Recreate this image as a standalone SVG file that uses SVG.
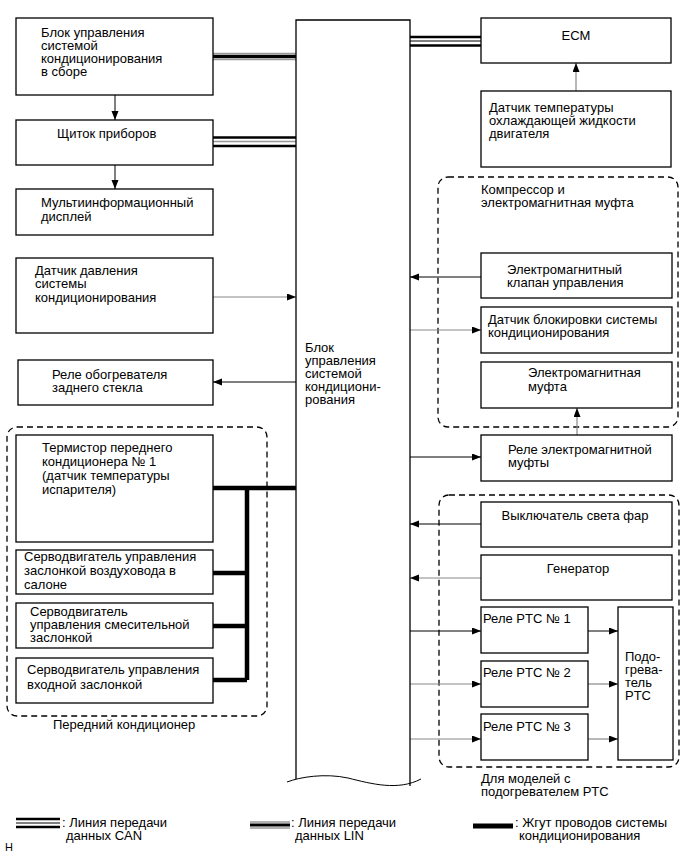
<svg xmlns="http://www.w3.org/2000/svg" width="691" height="854" viewBox="0 0 691 854">
<style>
.box{fill:#fff;stroke:#000;stroke-width:1.3}
.grp{fill:none;stroke:#000;stroke-width:1.3;stroke-dasharray:6 4}
text{font-family:"Liberation Sans",Arial,sans-serif;font-size:13px;fill:#000}
.ln{stroke:#000;stroke-width:1;fill:none}
.lg{stroke:#888;stroke-width:1.2;fill:none}
.hw{stroke:#000;stroke-width:4.5;fill:none}
.blk{stroke:#000;stroke-width:2.5}
.gry{stroke:#999;stroke-width:1.5}
</style>
<defs>
<marker id="ah" markerUnits="userSpaceOnUse" markerWidth="10" markerHeight="8" refX="9" refY="3.5" orient="auto"><path d="M0,0 L9,3.5 L0,7 z" fill="#000"/></marker>
</defs>
<rect width="691" height="854" fill="#fff"/>

<g id="groups">
<rect class="grp" x="7" y="427" width="260" height="289" rx="10"/>
<rect class="grp" x="438" y="177" width="240" height="250" rx="10"/>
<rect class="grp" x="439" y="495" width="240" height="272" rx="10"/>
<text x="53" y="729">Передний кондиционер</text>
<text x="481" y="194">Компрессор и</text>
<text x="481" y="207">электромагнитная муфта</text>
<text x="481" y="783">Для моделей с</text>
<text x="481" y="796">подогревателем PTC</text>
</g>

<g id="connectors">
<!-- CAN/LIN buses -->
<line class="blk" x1="410" y1="37" x2="481" y2="37"/>
<line class="ln" x1="410" y1="41" x2="481" y2="41"/>
<line class="blk" x1="410" y1="45.5" x2="481" y2="45.5"/>
<line class="gry" x1="213" y1="53.5" x2="296" y2="53.5"/>
<line x1="213" y1="56.5" x2="296" y2="56.5" stroke="#000" stroke-width="3.5"/>
<line class="gry" x1="213" y1="59.5" x2="296" y2="59.5"/>
<line class="blk" x1="213" y1="137.5" x2="296" y2="137.5"/>
<line class="gry" x1="213" y1="141.5" x2="296" y2="141.5"/>
<line class="blk" x1="213" y1="146" x2="296" y2="146"/>
<!-- left vertical arrows -->
<line class="ln" x1="115" y1="95" x2="115" y2="120" marker-end="url(#ah)"/>
<line class="ln" x1="115" y1="165" x2="115" y2="189" marker-end="url(#ah)"/>
<line class="lg" x1="213" y1="297" x2="296" y2="297" marker-end="url(#ah)"/>
<line class="ln" x1="296" y1="382" x2="213" y2="382" marker-end="url(#ah)"/>
<!-- harness -->
<path class="hw" d="M213,488 H296 M247,488 V680 M213,573 H247 M213,626 H247 M213,680 H247"/>
<!-- right side -->
<line class="lg" x1="576" y1="91" x2="576" y2="63" marker-end="url(#ah)"/>
<line class="ln" x1="481" y1="277" x2="410" y2="277" marker-end="url(#ah)"/>
<line class="lg" x1="410" y1="330" x2="481" y2="330" marker-end="url(#ah)"/>
<line class="lg" x1="577" y1="435" x2="577" y2="408" marker-end="url(#ah)"/>
<line class="ln" x1="410" y1="457" x2="481" y2="457" marker-end="url(#ah)"/>
<line class="ln" x1="481" y1="524" x2="410" y2="524" marker-end="url(#ah)"/>
<line class="lg" x1="481" y1="578" x2="410" y2="578" marker-end="url(#ah)"/>
<line class="ln" x1="410" y1="631" x2="481" y2="631" marker-end="url(#ah)"/>
<line class="ln" x1="588" y1="631" x2="618" y2="631" marker-end="url(#ah)"/>
<line class="lg" x1="410" y1="684" x2="481" y2="684" marker-end="url(#ah)"/>
<line class="lg" x1="588" y1="684" x2="618" y2="684" marker-end="url(#ah)"/>
<line class="lg" x1="410" y1="739" x2="481" y2="739" marker-end="url(#ah)"/>
<line class="lg" x1="588" y1="739" x2="618" y2="739" marker-end="url(#ah)"/>
</g>

<g id="central">
<path d="M296,779 V20 H410 V786" fill="#fff" stroke="#000" stroke-width="1.3"/>
<path d="M287,782 C300,777 325,773 348,778 C372,784 398,791 421,779" fill="none" stroke="#000" stroke-width="1"/>
<text x="305" y="352">Блок</text>
<text x="305" y="365">управления</text>
<text x="305" y="378">системой</text>
<text x="305" y="391">кондициони-</text>
<text x="305" y="404">рования</text>
</g>

<g id="n-block-assy"><rect class="box" x="16" y="18" width="197" height="77"/>
<text x="41" y="37">Блок управления</text><text x="41" y="50">системой</text><text x="41" y="63">кондиционирования</text><text x="41" y="76">в сборе</text></g>
<g id="n-combimeter"><rect class="box" x="16" y="120" width="197" height="45"/>
<text x="57" y="138">Щиток приборов</text></g>
<g id="n-mid"><rect class="box" x="16" y="189" width="197" height="46"/>
<text x="41" y="207">Мультиинформационный</text><text x="41" y="221">дисплей</text></g>
<g id="n-pressure"><rect class="box" x="16" y="258" width="197" height="75"/>
<text x="35" y="275">Датчик давления</text><text x="35" y="288">системы</text><text x="35" y="302">кондиционирования</text></g>
<g id="n-rear-defog"><rect class="box" x="18" y="360" width="195" height="45"/>
<text x="52" y="379">Реле обогревателя</text><text x="52" y="392">заднего стекла</text></g>
<g id="n-thermistor"><rect class="box" x="16" y="435" width="197" height="107"/>
<text x="42" y="452">Термистор переднего</text><text x="42" y="466">кондиционера № 1</text><text x="42" y="480">(датчик температуры</text><text x="42" y="494">испарителя)</text></g>
<g id="n-servo1"><rect class="box" x="16" y="550" width="197" height="44"/>
<text x="24" y="561">Серводвигатель управления</text><text x="24" y="575">заслонкой воздуховода в</text><text x="24" y="589">салоне</text></g>
<g id="n-servo2"><rect class="box" x="16" y="603" width="197" height="45"/>
<text x="30" y="616">Серводвигатель</text><text x="30" y="629">управления смесительной</text><text x="30" y="642">заслонкой</text></g>
<g id="n-servo3"><rect class="box" x="16" y="658" width="197" height="45"/>
<text x="27" y="674">Серводвигатель управления</text><text x="27" y="689">входной заслонкой</text></g>

<g id="n-ecm"><rect class="box" x="481" y="18" width="190" height="45"/>
<text x="576" y="40" text-anchor="middle">ECM</text></g>
<g id="n-coolant"><rect class="box" x="481" y="91" width="190" height="76"/>
<text x="489" y="112">Датчик температуры</text><text x="489" y="125">охлаждающей жидкости</text><text x="489" y="138">двигателя</text></g>
<g id="n-valve"><rect class="box" x="481" y="253" width="191" height="45"/>
<text x="507" y="274">Электромагнитный</text><text x="507" y="287">клапан управления</text></g>
<g id="n-lock"><rect class="box" x="481" y="307" width="191" height="46"/>
<text x="488" y="324">Датчик блокировки системы</text><text x="488" y="337">кондиционирования</text></g>
<g id="n-clutch"><rect class="box" x="481" y="362" width="191" height="46"/>
<text x="528" y="377">Электромагнитная</text><text x="528" y="391">муфта</text></g>
<g id="n-clutch-relay"><rect class="box" x="481" y="435" width="191" height="46"/>
<text x="508" y="454">Реле электромагнитной</text><text x="508" y="467">муфты</text></g>
<g id="n-headlight"><rect class="box" x="481" y="502" width="191" height="45"/>
<text x="575" y="520" text-anchor="middle">Выключатель света фар</text></g>
<g id="n-generator"><rect class="box" x="481" y="555" width="191" height="45"/>
<text x="578" y="573" text-anchor="middle">Генератор</text></g>
<g id="n-ptc1"><rect class="box" x="481" y="607" width="107" height="46"/>
<text x="483" y="623">Реле PTC № 1</text></g>
<g id="n-ptc2"><rect class="box" x="481" y="661" width="107" height="46"/>
<text x="483" y="677">Реле PTC № 2</text></g>
<g id="n-ptc3"><rect class="box" x="481" y="714" width="107" height="46"/>
<text x="483" y="731">Реле PTC № 3</text></g>
<g id="n-heater"><rect class="box" x="618" y="607" width="55" height="153"/>
<text x="625" y="661">Подо-</text><text x="625" y="674">грева-</text><text x="625" y="687">тель</text><text x="625" y="700">PTC</text></g>

<g id="legend">
<line class="blk" x1="16" y1="819" x2="60" y2="819"/>
<line class="ln" x1="16" y1="823" x2="60" y2="823"/>
<line class="blk" x1="16" y1="827" x2="60" y2="827"/>
<text x="62" y="827">: Линия передачи</text><text x="66" y="840">данных CAN</text>
<line class="gry" x1="250" y1="822" x2="290" y2="822"/>
<line x1="250" y1="825" x2="290" y2="825" stroke="#000" stroke-width="3"/>
<line class="gry" x1="250" y1="828" x2="290" y2="828"/>
<text x="291" y="827">: Линия передачи</text><text x="295" y="840">данных LIN</text>
<line x1="473" y1="826" x2="513" y2="826" stroke="#000" stroke-width="5"/>
<text x="515" y="827">: Жгут проводов системы</text><text x="519" y="840">кондиционирования</text>
<text x="5" y="851" style="font-size:11px">Н</text>
</g>
</svg>
